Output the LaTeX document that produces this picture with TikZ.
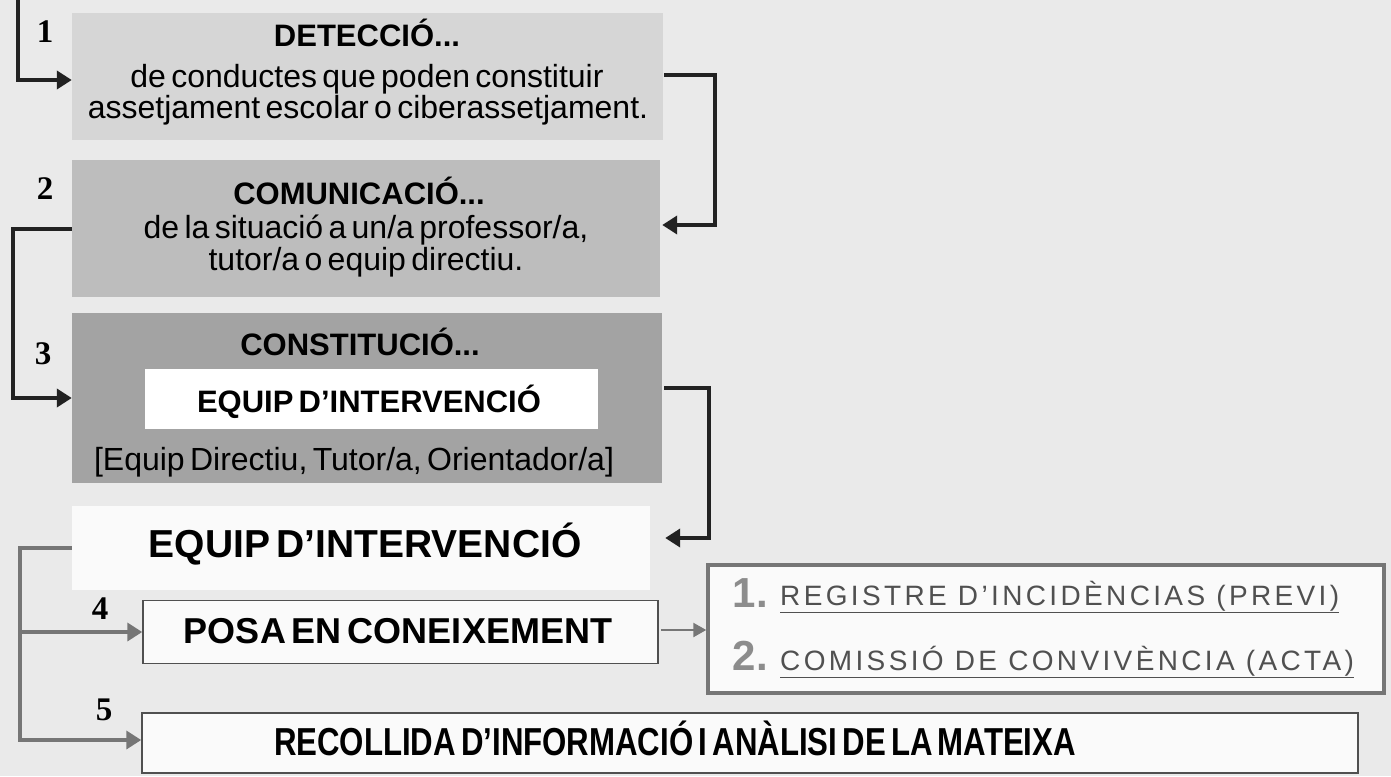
\documentclass[tikz,border=0pt]{standalone}
\usepackage{fontspec}
\usepackage{graphicx}
\setmainfont{Liberation Sans}[WordSpace=0.6]
\newfontfamily\numfont{Liberation Serif}
\newfontfamily\listfont{Liberation Sans}[LetterSpace=12]
\usetikzlibrary{arrows.meta,calc}
\definecolor{bgc}{HTML}{EAEAEA}
\definecolor{fillA}{HTML}{D6D6D6}
\definecolor{fillB}{HTML}{BDBDBD}
\definecolor{fillC}{HTML}{A3A3A3}
\definecolor{lineDark}{HTML}{222222}
\definecolor{lineGray}{HTML}{767676}
\definecolor{listGray}{HTML}{505050}
\definecolor{numGray}{HTML}{8C8C8C}
\definecolor{paper}{HTML}{FAFAFA}
\begin{document}
\begin{tikzpicture}[x=1pt,y=-1pt,
  panel/.style={inner sep=0pt, draw=none},
  title/.style={inner sep=0pt, anchor=base, font=\bfseries\fontsize{31}{32}\selectfont},
  body/.style={inner sep=0pt, anchor=base, font=\fontsize{32}{32}\selectfont},
  stepnum/.style={inner sep=0pt, anchor=base, font=\numfont\bfseries\fontsize{33}{33}\selectfont},
  outbox/.style={inner sep=0pt, fill=paper, draw=#1},
  listtxt/.style={inner sep=0pt, anchor=base west, text=listGray, font=\listfont\fontsize{28}{30}\selectfont},
  listnum/.style={inner sep=0pt, anchor=base east, text=numGray, font=\bfseries\fontsize{42}{44}\selectfont},
  connD/.style={draw=lineDark, line width=4.5pt, -{Triangle[length=15pt,width=18pt]}},
  connG/.style={draw=lineGray, line width=4.5pt, -{Triangle[length=15pt,width=18pt]}},
  connT/.style={draw=lineGray, line width=2.5pt, -{Triangle[length=13pt,width=14pt]}}
]
\fill[bgc] (0,0) rectangle (1391,776);
\useasboundingbox (0,0) rectangle (1391,776);

% box 1
\node[panel, fill=fillA, minimum width=591pt, minimum height=127pt] (b1) at (367.5,76.5) {};
\node[title] (t1) at (367,47) {DETECCIÓ...};
\node[body] (t1a) at (367,88) {de conductes que poden constituir};
\node[body] (t1b) at (368,118) {assetjament escolar o ciberassetjament.};

% box 2
\node[panel, fill=fillB, minimum width=588pt, minimum height=137pt] (b2) at (366,228.5) {};
\node[title] (t2) at (359,204) {COMUNICACIÓ...};
\node[body] (t2a) at (366,238) {de la situació a un/a professor/a,};
\node[body] (t2b) at (366,270) {tutor/a o equip directiu.};

% box 3
\node[panel, fill=fillC, minimum width=590pt, minimum height=170pt] (b3) at (367,398) {};
\node[title] (t3) at (360,355) {CONSTITUCIÓ...};
\node[panel, fill=white, minimum width=453pt, minimum height=60pt] (w3) at (371,399) {};
\node[title, font=\bfseries\fontsize{31}{32}\selectfont] (t3a) at (369,412) {EQUIP D’INTERVENCIÓ};
\node[body] (t3b) at (354,470) {[Equip Directiu, Tutor/a, Orientador/a]};

% equip d'intervencio
\node[panel, fill=paper, minimum width=578pt, minimum height=84pt] (ep) at (361,548) {};
\node[title, font=\bfseries\fontsize{39}{40}\selectfont] (et) at (365,557) {EQUIP D’INTERVENCIÓ};

% posa en coneixement
\node[outbox=listGray, line width=1.5pt, minimum width=515pt, minimum height=63pt] (posa) at (400.5,632) {};
\node[title, font=\bfseries\fontsize{36}{38}\selectfont] (pt) at (398,643) {POSA EN CONEIXEMENT};

% list box
\node[outbox=lineGray, line width=3.5pt, minimum width=676pt, minimum height=128pt] (list) at (1046,629) {};
\node[listnum] (n1) at (768,607) {1.};
\node[listtxt] (l1) at (780,605) {\underline{REGISTRE D’INCIDÈNCIAS (PREVI)}};
\node[listnum] (n2) at (768,670) {2.};
\node[listtxt] (l2) at (780,670) {\underline{COMISSIÓ DE CONVIVÈNCIA (ACTA)}};

% recollida
\node[outbox=listGray, line width=1.5pt, minimum width=1216pt, minimum height=60pt] (rec) at (750,743) {};
\node[title, font=\bfseries\fontsize{39}{40}\selectfont] (rt) at (675,755) {\scalebox{0.8}[1]{RECOLLIDA D’INFORMACIÓ I ANÀLISI DE LA MATEIXA}};

% step numbers
\node[stepnum] (s1n) at (45,43) {1};
\node[stepnum] (s2n) at (45,199) {2};
\node[stepnum] (s3n) at (43,364) {3};
\node[stepnum] (s4n) at (100,619) {4};
\node[stepnum] (s5n) at (104,720) {5};

% connectors
\coordinate (c1s) at (18,0);
\draw[connD] (c1s) |- ([yshift=-3.5pt]b1.west);
\draw[connD] ([xshift=1pt,yshift=1.5pt]b1.east) -- ++(51,0) |- ([xshift=2pt,yshift=3.5pt]b2.east);
\draw[connD] ([yshift=-0.5pt]b2.west) -- ++(-59,0) |- (b3.west);
\draw[connD] ([xshift=2pt,yshift=10pt]b3.east) -- ++(45,0) |- ([xshift=15pt,yshift=10pt]ep.east);
\coordinate (j5) at (20,548);
\draw[connG] (ep.west) -- (j5) |- ([yshift=3pt]rec.west);
\draw[connG] (j5 |- posa.west) -- (posa.west);
\draw[connT] ([xshift=2pt,yshift=2pt]posa.east) -- ([yshift=-1pt]list.west);
\end{tikzpicture}
\end{document}
